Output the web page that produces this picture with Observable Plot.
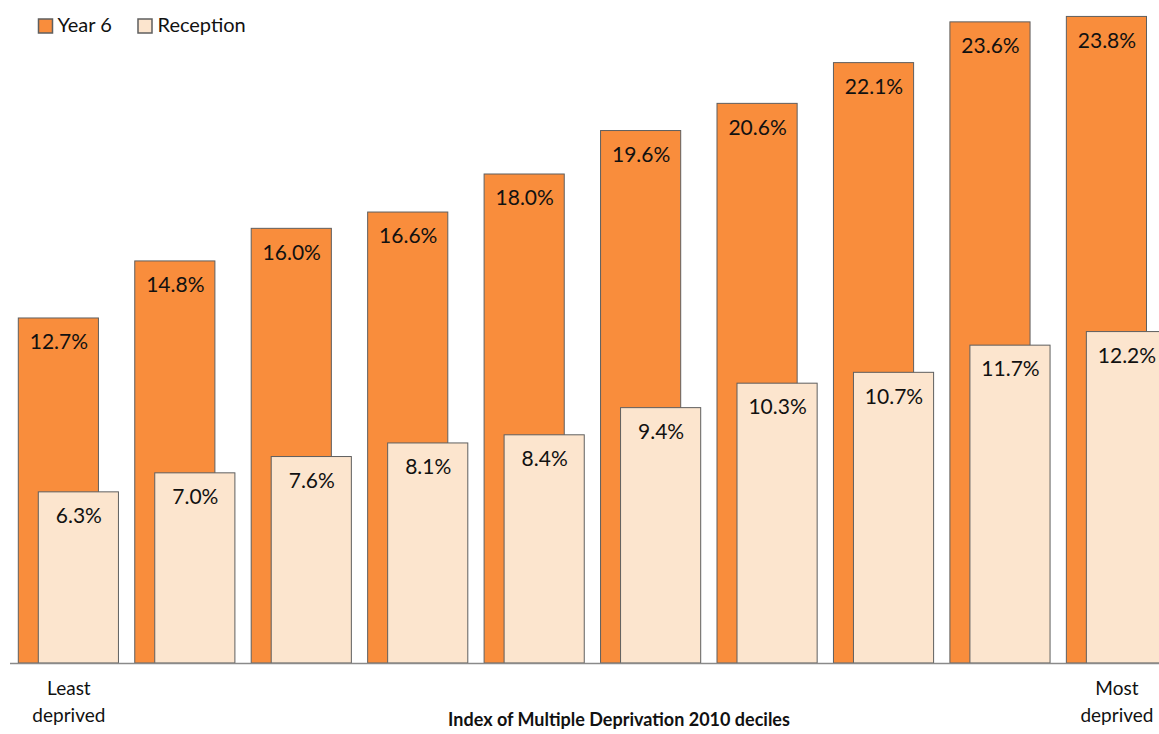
<!DOCTYPE html>
<html>
<head>
<meta charset="utf-8">
<script src="https://cdn.jsdelivr.net/npm/d3@7"></script>
<script src="https://cdn.jsdelivr.net/npm/@observablehq/plot@0.6"></script>
<style>
  html, body { margin: 0; padding: 0; background: #fff; overflow: hidden; }
  #chart svg { display: block; overflow: hidden; }
</style>
</head>
<body>
<div id="chart"></div>
<script>
// Obesity prevalence by deprivation decile (1 = least deprived, 10 = most deprived)
const deciles = [1, 2, 3, 4, 5, 6, 7, 8, 9, 10];
const year6 = [12.7, 14.8, 16.0, 16.6, 18.0, 19.6, 20.6, 22.1, 23.6, 23.8];
const reception = [6.3, 7.0, 7.6, 8.1, 8.4, 9.4, 10.3, 10.7, 11.7, 12.2];
const seriesNames = ["Year 6", "Reception"];
const endLabels = {1: "Least\ndeprived", 10: "Most\ndeprived"};
const axisTitle = "Index of Multiple Deprivation 2010 deciles";

const colors = {"Year 6": "#F98D3C", "Reception": "#FCE5CE"};
const edge = "#5f5f5f";
const font = "Lato, 'Open Sans', sans-serif";

const y6 = deciles.map((d, i) => ({decile: d, value: year6[i]}));
const rec = deciles.map((d, i) => ({decile: d, value: reception[i]}));
const fmt = v => v.toFixed(1) + "%";

const chart = Plot.plot({
  width: 1159,
  height: 734,
  marginTop: 11,
  marginBottom: 71,
  marginLeft: 10,
  marginRight: 0,
  style: {fontFamily: font, background: "#fff"},
  x: {domain: deciles, range: [18.3, 1166.5], paddingInner: 0.14, paddingOuter: 0, round: false, axis: null},
  y: {domain: [0, 24], axis: null},
  marks: [
    Plot.barY(y6, {x: "decile", y: "value", fill: colors["Year 6"], stroke: edge, strokeWidth: 1, insetRight: 20}),
    Plot.text(y6, {x: "decile", y: "value", text: d => fmt(d.value), dx: -10, dy: 24, fontSize: 21, fill: "#111"}),
    Plot.barY(rec, {x: "decile", y: "value", fill: colors["Reception"], stroke: edge, strokeWidth: 1, insetLeft: 20}),
    Plot.text(rec, {x: "decile", y: "value", text: d => fmt(d.value), dx: 10, dy: 24, fontSize: 21, fill: "#111"}),
    Plot.ruleY([0], {stroke: "#8a8a8a", strokeWidth: 1.5}),
    Plot.axisX({
      tickSize: 0,
      tickPadding: 13,
      fontSize: 19,
      lineHeight: 1.4,
      tickFormat: d => endLabels[d] ?? "",
      label: null,
      fill: "#111"
    }),
    Plot.text([axisTitle], {frameAnchor: "bottom", dx: 34, dy: 57, fontSize: 18, fontWeight: "bold", fill: "#111", lineAnchor: "middle"}),
    // legend
    Plot.dot([seriesNames[0]], {frameAnchor: "top-left", dx: 35, dy: 14.5, symbol: "square", r: 7.9, fill: colors["Year 6"], stroke: edge, strokeWidth: 1.5}),
    Plot.text([seriesNames[0]], {frameAnchor: "top-left", dx: 47, dy: 14, text: d => d, textAnchor: "start", lineAnchor: "middle", fontSize: 20, fill: "#111"}),
    Plot.dot([seriesNames[1]], {frameAnchor: "top-left", dx: 134.5, dy: 14.5, symbol: "square", r: 7.9, fill: colors["Reception"], stroke: edge, strokeWidth: 1.5}),
    Plot.text([seriesNames[1]], {frameAnchor: "top-left", dx: 147, dy: 14, text: d => d, textAnchor: "start", lineAnchor: "middle", fontSize: 20, fill: "#111"})
  ]
});
document.getElementById("chart").append(chart);
</script>
</body>
</html>
